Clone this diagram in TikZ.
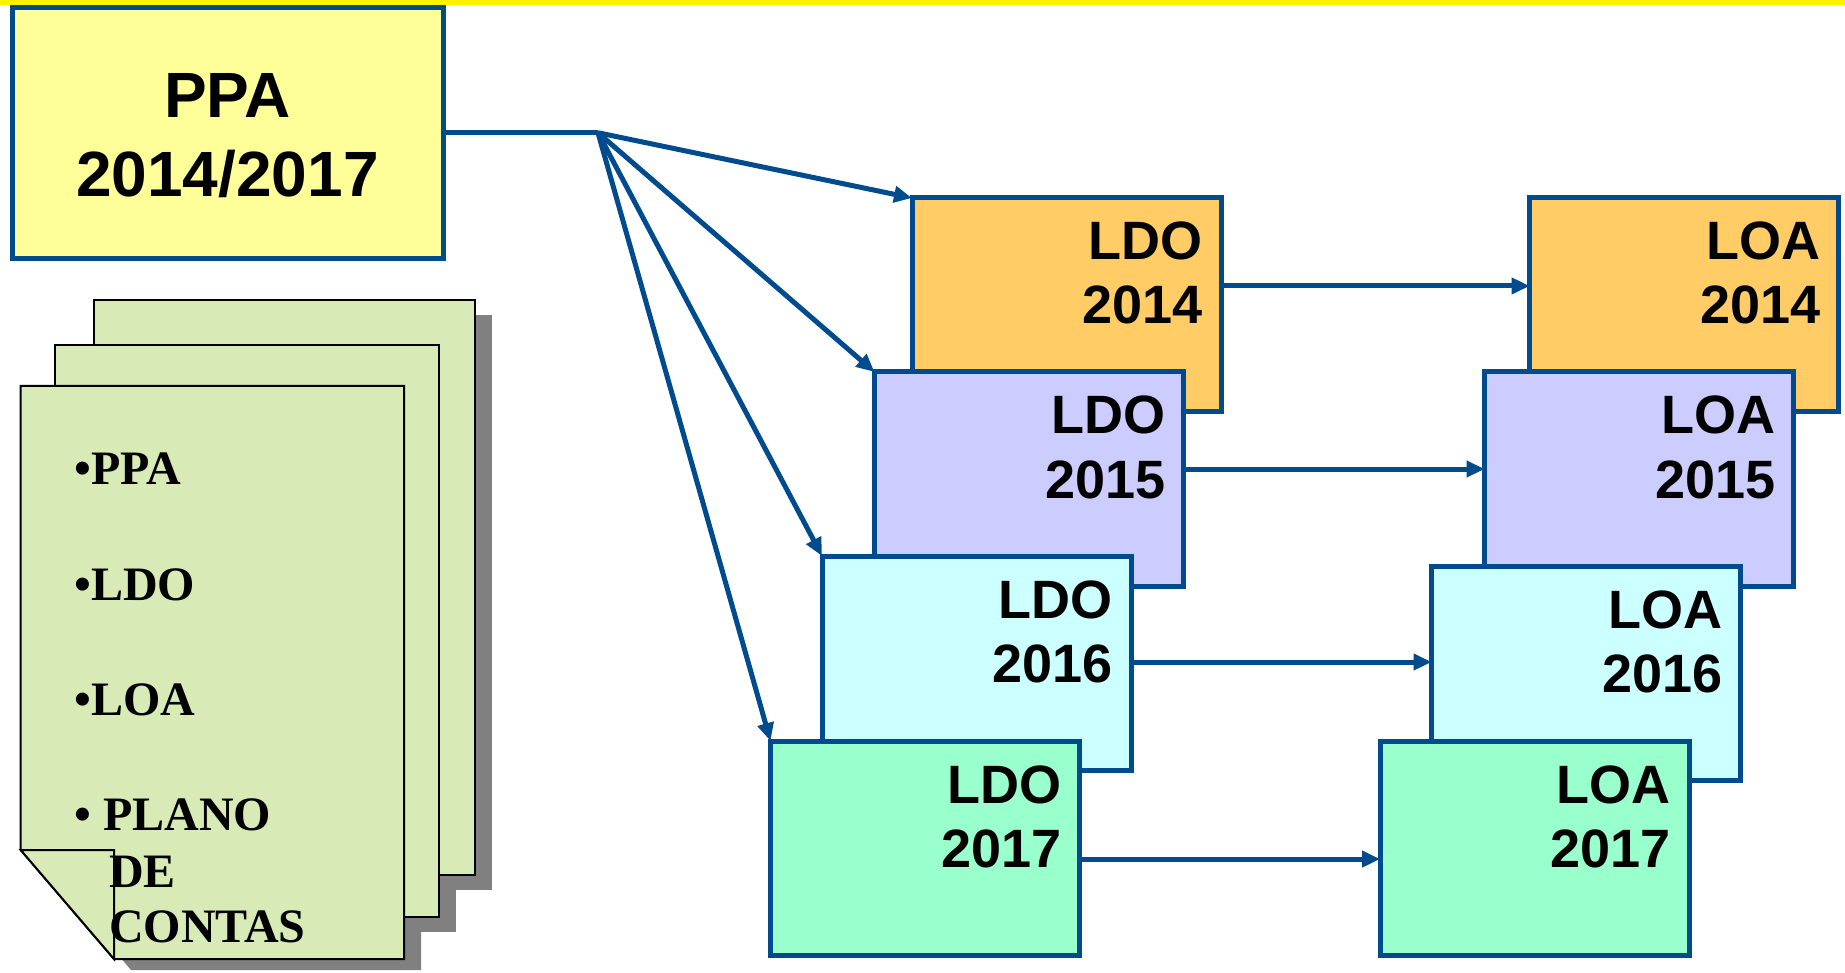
\documentclass[tikz,border=0pt]{standalone}
\usepackage{fontspec}
\newfontfamily\sansfnt{Liberation Sans}
\newfontfamily\seriffnt{Liberation Serif}
\usetikzlibrary{arrows.meta}
\definecolor{bordblue}{RGB}{0,74,142}
\definecolor{ppafill}{RGB}{255,255,153}
\definecolor{yrA}{RGB}{255,204,102}
\definecolor{yrB}{RGB}{204,204,255}
\definecolor{yrC}{RGB}{204,255,255}
\definecolor{yrD}{RGB}{153,255,204}
\definecolor{pagegreen}{RGB}{216,234,182}
\definecolor{shadowgray}{RGB}{128,128,128}
\begin{document}
\begin{tikzpicture}[x=1pt,y=-1pt,
  box/.style={draw=bordblue, line width=5pt, minimum width=309pt, minimum height=214pt, inner sep=0pt, outer sep=0pt},
  boxlbl/.style={anchor=base east, inner sep=0pt, font=\sansfnt\bfseries\fontsize{54}{60}\selectfont},
  ppalbl/.style={anchor=base, inner sep=0pt, font=\sansfnt\bfseries\fontsize{64}{70}\selectfont},
  pagelbl/.style={anchor=base west, inner sep=0pt, font=\seriffnt\bfseries\fontsize{48}{54}\selectfont},
  page/.style={draw=black, line width=2pt, fill=pagegreen, line join=miter},
  conn/.style={draw=bordblue, line width=5pt, -{Triangle[length=18pt,width=16pt]}},
]
\useasboundingbox (0,0) rectangle (1845,973);
\fill[yellow] (0,0) rectangle (1845,5);

% document stack: shadows first, then pages back to front
\fill[shadowgray] (111,315) rectangle (492,890);
\fill[shadowgray] (72,360) rectangle (456,932);
\fill[shadowgray] (37.7,397) -- (421,397) -- (421,970) -- (131,970) -- (37.7,861) -- cycle;
\path[page] (94,300) rectangle (475,875);
\path[page] (55,345) rectangle (439,917);
\fill[white] (20.7,850) -- (114,959) -- (114,973) -- (0,973) -- (0,850) -- cycle;
\path[page] (20.7,386) -- (404,386) -- (404,959) -- (114,959) -- (20.7,850) -- cycle;
\path[page] (20.7,850) -- (114,850) -- (114,959) -- cycle;

\node[pagelbl] (tPPA) at (74,484) {•PPA};
\node[pagelbl] (tLDO) at (74,600) {•LDO};
\node[pagelbl] (tLOA) at (74,715) {•LOA};
\node[pagelbl] (tPlano) at (74,830) {• PLANO};
\node[pagelbl] (tDe) at (109,887) {DE};
\node[pagelbl] (tContas) at (109,942) {CONTAS};

% PPA box
\node[box, fill=ppafill, minimum width=431pt, minimum height=251pt] (ppa) at (227.5,132.75) {};
\node[ppalbl] (ppaT1) at (227.5,118) {PPA};
\node[ppalbl] (ppaT2) at (227.5,197) {2014/2017};

% LDO and LOA boxes
\foreach \n/\cx/\cy/\col/\lab/\yr in {
  ldoA/1066.5/305/yrA/LDO/2014, ldoB/1029/479/yrB/LDO/2015,
  ldoC/976.5/663/yrC/LDO/2016, ldoD/925/848/yrD/LDO/2017,
  loaA/1684/305/yrA/LOA/2014, loaB/1639/479/yrB/LOA/2015,
  loaC/1586/673/yrC/LOA/2016, loaD/1534.5/848/yrD/LOA/2017} {
  \node[box, fill=\col] (\n) at (\cx,\cy) {};
  \node[boxlbl] (\n-a) at ([xshift=-18pt,yshift=-62pt]\n.north east) {\lab};
  \node[boxlbl] (\n-b) at ([xshift=-18pt,yshift=-126pt]\n.north east) {\yr};
}

% connectors
\coordinate (hub) at (598,132.75);
\draw[bordblue, line width=5pt] (ppa.east) -- (hub);
\draw[conn] (hub) -- (ldoA.north west);
\draw[conn] (hub) -- (ldoB.north west);
\draw[conn] (hub) -- (ldoC.north west);
\draw[conn] (hub) -- (ldoD.north west);
\draw[conn] ([yshift=19pt]ldoA.east) -- ([yshift=19pt]loaA.west);
\draw[conn] ([yshift=10pt]ldoB.east) -- ([yshift=10pt]loaB.west);
\draw[conn] ([yshift=1pt]ldoC.east) -- ([yshift=11pt]loaC.west);
\draw[conn] ([yshift=-11pt]ldoD.east) -- ([yshift=-11pt]loaD.west);
\end{tikzpicture}
\end{document}
